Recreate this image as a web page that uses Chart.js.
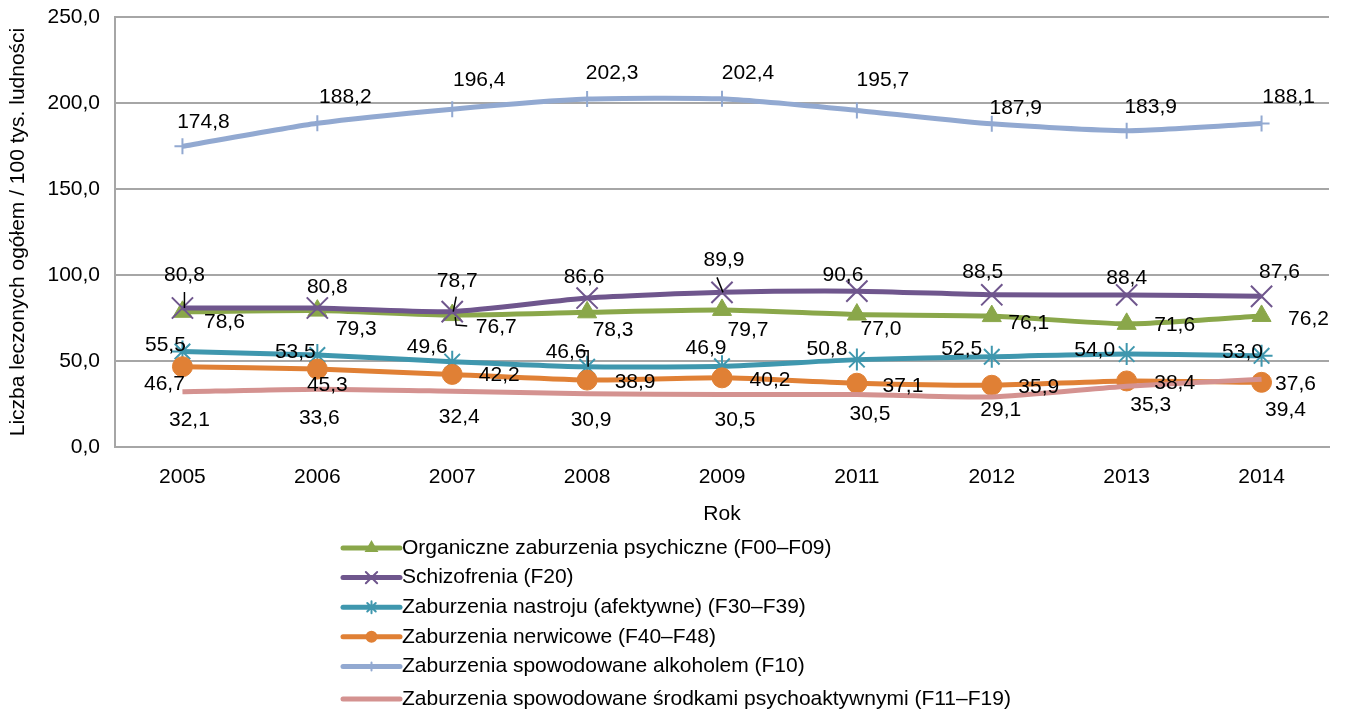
<!DOCTYPE html>
<html>
<head>
<meta charset="utf-8">
<script src="https://cdn.jsdelivr.net/npm/chart.js@4.4.1/dist/chart.umd.min.js"></script>
<style>
  html, body { margin: 0; padding: 0; background: #fff; }
  #wrap { width: 1346px; height: 717px; position: relative; }
</style>
</head>
<body>
<div id="wrap"><canvas id="myChart"></canvas></div>
<script>
// data
const years = ['2005', '2006', '2007', '2008', '2009', '2011', '2012', '2013', '2014'];
const organiczne = [78.6, 79.3, 76.7, 78.3, 79.7, 77.0, 76.1, 71.6, 76.2];
const schizofrenia = [80.8, 80.8, 78.7, 86.6, 89.9, 90.6, 88.5, 88.4, 87.6];
const nastroj = [55.5, 53.5, 49.6, 46.6, 46.9, 50.8, 52.5, 54.0, 53.0];
const nerwicowe = [46.7, 45.3, 42.2, 38.9, 40.2, 37.1, 35.9, 38.4, 37.6];
const alkohol = [174.8, 188.2, 196.4, 202.3, 202.4, 195.7, 187.9, 183.9, 188.1];
const substancje = [32.1, 33.6, 32.4, 30.9, 30.5, 30.5, 29.1, 35.3, 39.4];
const yTicks = [0, 50, 100, 150, 200, 250];

const seriesNames = [
  'Organiczne zaburzenia psychiczne (F00\u2013F09)',
  'Schizofrenia (F20)',
  'Zaburzenia nastroju (afektywne) (F30\u2013F39)',
  'Zaburzenia nerwicowe (F40\u2013F48)',
  'Zaburzenia spowodowane alkoholem (F10)',
  'Zaburzenia spowodowane \u015brodkami psychoaktywnymi (F11\u2013F19)'
];

// label offsets (px) from each point, per series
const labelOffsets = [
  [[42,10],[39,19],[44,12],[26,18],[26,20],[24,15],[37,7],[48,1],[47,3]],
  [[2,-33],[10,-21],[5,-30],[-3,-21],[2,-32],[-14,-16],[-9,-23],[0,-17],[18,-24]],
  [[-17,-6],[-22,-3],[-25,-14],[-21,-15],[-16,-18],[-30,-10],[-30,-7],[-32,-4],[-19,-4]],
  [[-18,18],[10,16],[47,1],[48,2],[48,2],[46,3],[47,2],[48,2],[34,2]],
  [[21,-24],[28,-26],[27,-29],[25,-26],[26,-26],[26,-30],[24,-16],[24,-23],[27,-26]],
  [[7,28],[2,29],[7,26],[4,26],[13,26],[13,20],[9,13],[24,19],[24,31]]
];

// leader lines: series, point, path relative to the point
const leaders = [
  [1, 0, [[2,-16],[2,0]]],
  [1, 2, [[4,-15],[1,0]]],
  [0, 2, [[3,2],[4,10],[15,11]]],
  [2, 3, [[-8,-16],[1,-16],[1,0]]],
  [1, 4, [[-5,-15],[1,0]]]
];

const FONT = '"Liberation Sans", Arial, sans-serif';
const FSIZE = 21;
const fmt = v => v.toFixed(1).replace('.', ',');

function mkSet(i, data, color, style, radius) {
  return {
    label: seriesNames[i],
    data: data,
    borderColor: color,
    backgroundColor: color,
    borderWidth: 5,
    pointStyle: style,
    pointRadius: radius,
    pointBorderWidth: style === 'circle' || style === 'triangle' ? 1 : 2,
    pointBorderColor: color,
    pointBackgroundColor: color,
    tension: 0.2,
    order: 6 - i
  };
}

const datasets = [
  mkSet(0, organiczne, '#8AA74A', 'triangle', 11),
  mkSet(1, schizofrenia, '#6F568D', 'crossRot', 15),
  mkSet(2, nastroj, '#3F97AE', 'star', 11),
  mkSet(3, nerwicowe, '#E08035', 'circle', 10),
  mkSet(4, alkohol, '#92A9D1', 'cross', 8),
  mkSet(5, substancje, '#D49290', 'circle', 0)
];

// value labels next to the points
const valueLabels = {
  id: 'valueLabels',
  afterDatasetsDraw(chart) {
    const ctx = chart.ctx;
    ctx.save();
    ctx.strokeStyle = '#000';
    ctx.lineWidth = 1.5;
    leaders.forEach(([s, p, path]) => {
      const pt = chart.getDatasetMeta(s).data[p];
      ctx.beginPath();
      path.forEach(([dx, dy], k) => {
        if (k === 0) ctx.moveTo(pt.x + dx, pt.y + dy);
        else ctx.lineTo(pt.x + dx, pt.y + dy);
      });
      ctx.stroke();
    });
    ctx.font = FSIZE + 'px ' + FONT;
    ctx.fillStyle = '#000';
    ctx.textAlign = 'center';
    ctx.textBaseline = 'middle';
    chart.data.datasets.forEach((ds, i) => {
      const meta = chart.getDatasetMeta(i);
      meta.data.forEach((pt, j) => {
        const off = labelOffsets[i][j];
        ctx.fillText(fmt(ds.data[j]), pt.x + off[0], pt.y + off[1]);
      });
    });
    ctx.restore();
  }
};

// vertical legend under the chart
const sideLegend = {
  id: 'sideLegend',
  afterDraw(chart) {
    const ctx = chart.ctx;
    const x0 = 343, x1 = 400, tx = 402;
    ctx.save();
    ctx.font = FSIZE + 'px ' + FONT;
    ctx.textBaseline = 'middle';
    ctx.textAlign = 'left';
    chart.data.datasets.forEach((ds, i) => {
      const y = 548 + i * 29.6 + (i === 5 ? 3 : 0);
      ctx.strokeStyle = ds.borderColor;
      ctx.lineWidth = 5;
      ctx.lineCap = 'round';
      ctx.beginPath();
      ctx.moveTo(x0, y);
      ctx.lineTo(x1, y);
      ctx.stroke();
      if (ds.pointRadius > 0 && Chart.helpers && Chart.helpers.drawPoint) {
        ctx.fillStyle = ds.borderColor;
        ctx.lineWidth = 2;
        Chart.helpers.drawPoint(ctx, {
          pointStyle: ds.pointStyle,
          radius: Math.round(ds.pointRadius * 0.5),
          rotation: 0,
          borderWidth: 2
        }, (x0 + x1) / 2, y);
      }
      ctx.fillStyle = '#000';
      ctx.fillText(ds.label, tx, y);
    });
    ctx.restore();
  }
};

const ctx = document.getElementById('myChart');
const myChart = new Chart(ctx, {
  type: 'line',
  data: { labels: years, datasets: datasets },
  plugins: [valueLabels, sideLegend],
  options: {
    responsive: true,
    maintainAspectRatio: false,
    animation: false,
    layout: { padding: { top: 17, right: 15, bottom: 190, left: 0 } },
    plugins: {
      legend: { display: false },
      tooltip: { enabled: false }
    },
    scales: {
      x: {
        offset: true,
        grid: { display: false, drawTicks: false },
        border: { color: '#A6A6A6', width: 2 },
        ticks: { color: '#000', font: { family: FONT, size: FSIZE }, padding: 18, maxRotation: 0 },
        title: { display: true, text: 'Rok', color: '#000', font: { family: FONT, size: FSIZE }, padding: { top: 0, bottom: 0 } },
        afterFit(scale) { scale.height = 80; }
      },
      y: {
        min: 0,
        max: 250,
        afterBuildTicks(scale) { scale.ticks = yTicks.map(v => ({ value: v })); },
        grid: { color: '#A6A6A6', lineWidth: 2, drawTicks: true, tickLength: 12, tickColor: 'rgba(0,0,0,0)' },
        border: { color: '#A6A6A6', width: 2 },
        ticks: { color: '#000', font: { family: FONT, size: FSIZE }, padding: 3, callback: v => fmt(v) },
        title: { display: true, text: 'Liczba leczonych og\u00f3\u0142em / 100 tys. ludno\u015bci', color: '#000', font: { family: FONT, size: FSIZE }, padding: 6 },
        afterFit(scale) { scale.width = 115; }
      }
    }
  }
});
</script>
</body>
</html>
